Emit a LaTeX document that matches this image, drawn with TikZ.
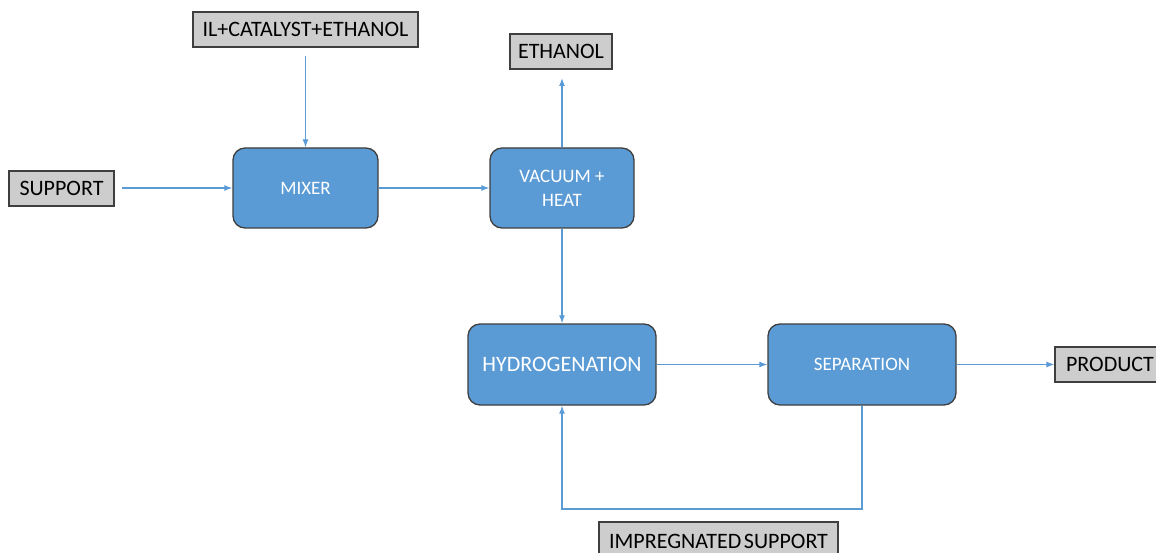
\documentclass[tikz,border=0pt]{standalone}
\usepackage{fontspec}
\setmainfont{Carlito}
\usetikzlibrary{arrows.meta}
\definecolor{procblue}{HTML}{5B9BD5}
\definecolor{edgegray}{HTML}{3F3F3F}
\definecolor{boxgray}{HTML}{CDCDCD}
\tikzset{
  proc/.style={draw=edgegray, line width=1.3pt, fill=procblue, rounded corners=12pt,
    text=white, align=center, inner sep=0pt, font=\fontsize{19}{24}\selectfont},
  io/.style={draw=edgegray, line width=1.1pt, fill=boxgray, text=black, inner sep=0pt,
    font=\fontsize{22}{26}\selectfont},
  flow/.style={draw=procblue, line width=1.2pt, -{Latex[length=8pt,width=6pt]}}
}
\begin{document}
\begin{tikzpicture}[x=1pt,y=-1pt]
\useasboundingbox (0,0) rectangle (1156,553);
\clip (0,0) rectangle (1156,553);
% input/output boxes
\node[io, minimum width=225pt, minimum height=35pt] (il) at (305.5,29.5) {IL+CATALYST+ETHANOL};
\node[io, minimum width=102pt, minimum height=35pt] (eth) at (561,51.5) {ETHANOL};
\node[io, minimum width=105pt, minimum height=35pt] (sup) at (61.5,188.5) {SUPPORT};
\node[io, minimum width=110pt, minimum height=35pt] (prod) at (1110,364.5) {PRODUCT};
\node[io, minimum width=239pt, minimum height=38pt] (imp) at (718.5,541) {IMPREGNATED\hspace{0.12em}SUPPORT};
% process boxes
\node[proc, minimum width=145pt, minimum height=80pt] (mix) at (305.5,188) {MIXER};
\node[proc, minimum width=144pt, minimum height=80pt] (vac) at (562,188) {VACUUM +\\HEAT};
\node[proc, minimum width=188pt, minimum height=81pt, font=\fontsize{22}{26}\selectfont] (hyd) at (562,364.5) {HYDROGENATION};
\node[proc, minimum width=188pt, minimum height=81pt] (sep) at (862,364.5) {SEPARATION};
% connectors
\coordinate (supout) at (122,188);
\coordinate (ilout) at (305.5,56);
\coordinate (ethin) at (562,78);
\coordinate (loop) at (862,509);
\draw[flow] (supout) -- (mix.west);
\draw[flow] (ilout) -- (mix.north);
\draw[flow] (mix.east) -- (vac.west);
\draw[flow] (vac.north) -- (ethin);
\draw[flow] (vac.south) -- (hyd.north);
\draw[flow] (hyd.east) -- (sep.west);
\draw[flow] (sep.east) -- (prod.west);
\draw[flow] (sep.south) -- (loop) -| (hyd.south);
\end{tikzpicture}
\end{document}
